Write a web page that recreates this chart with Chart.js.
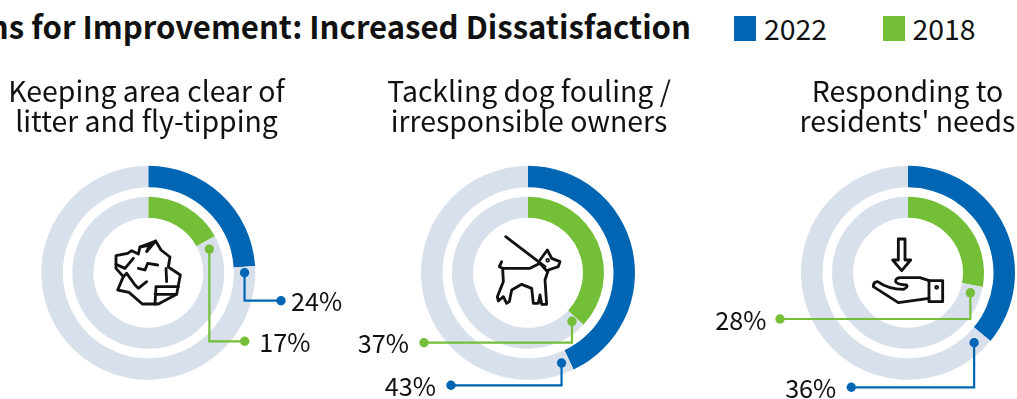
<!DOCTYPE html>
<html>
<head>
<meta charset="utf-8">
<script src="https://cdn.jsdelivr.net/npm/chart.js@4"></script>
<style>
    html, body { margin: 0; padding: 0; background: #fff; }
    body { position: relative; width: 1017px; height: 399px; overflow: hidden; font-family: "Noto Sans CJK SC", sans-serif; color: #111; }
    canvas { position: absolute; left: 0; top: 0; }
    .title { position: absolute; right: 326px; top: 4px; font-size: 31.1px; font-weight: 700; line-height: 44px; white-space: nowrap; }
    .swatch { position: absolute; top: 16px; width: 22px; height: 25px; }
    .year { position: absolute; top: 7px; font-size: 28.4px; line-height: 42px; }
    .topic { position: absolute; top: 75px; width: 340px; text-align: center; font-size: 28.4px; line-height: 29.5px; }
    svg { position: absolute; fill: none; stroke: #111; stroke-width: 8.5; stroke-linejoin: round; stroke-linecap: round; }
</style>
</head>
<body>
<div class="title">ns for Improvement: Increased Dissatisfaction</div>
<div class="swatch" style="left:734px;background:#0066b3"></div>
<div class="year" style="left:764px">2022</div>
<div class="swatch" style="left:883px;background:#74bf38"></div>
<div class="year" style="left:912.5px">2018</div>

<canvas id="chart0" width="1017" height="399"></canvas>
<canvas id="chart1" width="1017" height="399"></canvas>
<canvas id="chart2" width="1017" height="399"></canvas>

<!-- crumpled paper -->
<svg style="left:105px;top:235px" width="85" height="75" viewBox="0 0 255 225">
    <path d="M33 62L68 55L80 47L100 57L105 36L152 18L168 45L195 66L190 96L226 120L215 178L160 207L112 207L72 172L38 165L55 125L33 100Z"/>
    <path d="M33 88L60 100L85 70M100 100L120 105L128 85L158 90M55 125L65 115L90 150L100 160L125 140M185 140L183 100M150 207L153 155L220 155M150 178L215 178M105 36L135 30L125 50L152 18"/>
</svg>
<!-- dog on a lead -->
<svg style="left:490px;top:225px" width="85" height="90" viewBox="0 0 255 270">
    <path d="M47 35L165 125"/>
    <path d="M35 110L28 125L38 130L40 170L22 215L25 228L40 215L50 235L58 230L65 195L95 178L125 190L130 235L145 235L150 210L155 238L170 238L165 165L175 135L205 125L210 110L185 100L172 75L150 105"/>
    <path d="M38 130L120 130L150 115L172 140"/>
    <circle cx="173" cy="106" r="2.5"/>
</svg>
<!-- hand under an arrow -->
<svg style="left:865px;top:230px" width="90" height="80" viewBox="0 0 270 240">
    <path d="M100 27L120 27L120 90L137 90L110 122L83 90L100 90Z"/>
    <path d="M192 152L165 143L105 143Q90 145 92 155Q95 163 125 165Q130 172 115 178Q70 178 38 155Q25 155 25 170L100 218L192 205"/>
    <rect x="192" y="152" width="41" height="63"/>
    <circle cx="215" cy="172" r="3"/>
</svg>

<script>
const topics = [
    ["Keeping area clear of", "litter and fly-tipping"],
    ["Tackling dog fouling /", "irresponsible owners"],
    ["Responding to", "residents' needs"]
];
const values2022 = [24, 43, 36];
const values2018 = [17, 37, 28];

const blue = "#0066b3";
const green = "#74bf38";
const track = "#d8e0eb";

// ring centres on the page and where each heading sits
const centresX = [148.3, 528, 908];
const centreY = 272.8;
const radius = 107;
const headingX = [146.5, 529, 907.5];

// callouts: degrees past the end of the arc, elbow height, far end of the line, label side and gap
const callouts2022 = [
    { gap: 3.6, y: 300.7, endX: 281, side: 1, labelGap: 10 },
    { gap: 4.8, y: 385.3, endX: 451, side: -1, labelGap: 15 },
    { gap: 7, y: 387.3, endX: 851.3, side: -1, labelGap: 15 }
];
const callouts2018 = [
    { gap: 7.6, y: 341.3, endX: 244.7, side: 1, labelGap: 14.5 },
    { gap: 4.6, y: 342.7, endX: 424, side: -1, labelGap: 15 },
    { gap: 7, y: 319, endX: 780, side: -1, labelGap: 13.5 }
];

topics.forEach(function (lines, i) {
    const div = document.createElement("div");
    div.className = "topic";
    div.style.left = (headingX[i] - 170) + "px";
    div.innerHTML = lines.join("<br>");
    document.body.appendChild(div);
});

function dot(ctx, x, y, color) {
    ctx.beginPath();
    ctx.arc(x, y, 4.7, 0, Math.PI * 2);
    ctx.fillStyle = color;
    ctx.fill();
}

// leader line from just past the arc end to the percentage label
const calloutPlugin = {
    id: "callouts",
    afterDraw(chart, args, opts) {
        const ctx = chart.ctx;
        opts.items.forEach(function (item) {
            const arc = chart.getDatasetMeta(item.dataset).data[0];
            const p = arc.getProps(["x", "y", "endAngle", "innerRadius", "outerRadius"], true);
            const mid = (p.innerRadius + p.outerRadius) / 2;
            const a = p.endAngle + item.gap * Math.PI / 180;
            const x = p.x + Math.cos(a) * mid;
            const y = p.y + Math.sin(a) * mid;

            ctx.save();
            ctx.strokeStyle = item.color;
            ctx.lineWidth = 2.2;
            ctx.beginPath();
            ctx.moveTo(x, y);
            ctx.lineTo(x, item.y);
            ctx.lineTo(item.endX, item.y);
            ctx.stroke();
            dot(ctx, x, y, item.color);
            dot(ctx, item.endX, item.y, item.color);

            ctx.fillStyle = "#111";
            ctx.font = '25.2px "Noto Sans CJK SC"';
            ctx.textBaseline = "middle";
            ctx.textAlign = item.side > 0 ? "left" : "right";
            ctx.fillText(item.value + "%", item.endX + item.side * item.labelGap, item.y + 1);
            ctx.restore();
        });
    }
};

function drawRing(i) {
    const cx = centresX[i];
    return new Chart(document.getElementById("chart" + i), {
        type: "doughnut",
        plugins: [calloutPlugin],
        data: {
            labels: ["Dissatisfied", "Other"],
            datasets: [
                { label: "2022", data: [values2022[i], 100 - values2022[i]], backgroundColor: [blue, track], borderWidth: 0, weight: 21.5 },
                { label: "", data: [100], backgroundColor: "rgba(0,0,0,0)", borderWidth: 0, weight: 9.5 },
                { label: "2018", data: [values2018[i], 100 - values2018[i]], backgroundColor: [green, track], borderWidth: 0, weight: 21 }
            ]
        },
        options: {
            responsive: false,
            animation: false,
            cutout: (55 / radius * 100) + "%",
            layout: {
                padding: {
                    left: cx - radius,
                    right: 1017 - cx - radius,
                    top: centreY - radius,
                    bottom: 399 - centreY - radius
                }
            },
            plugins: {
                legend: { display: false },
                tooltip: { enabled: false },
                callouts: {
                    items: [
                        Object.assign({ dataset: 0, color: blue, value: values2022[i] }, callouts2022[i]),
                        Object.assign({ dataset: 2, color: green, value: values2018[i] }, callouts2018[i])
                    ]
                }
            }
        }
    });
}

document.fonts.load('26px "Noto Sans CJK SC"').then(function () {
    topics.forEach(function (t, i) { drawRing(i); });
});
</script>
</body>
</html>
